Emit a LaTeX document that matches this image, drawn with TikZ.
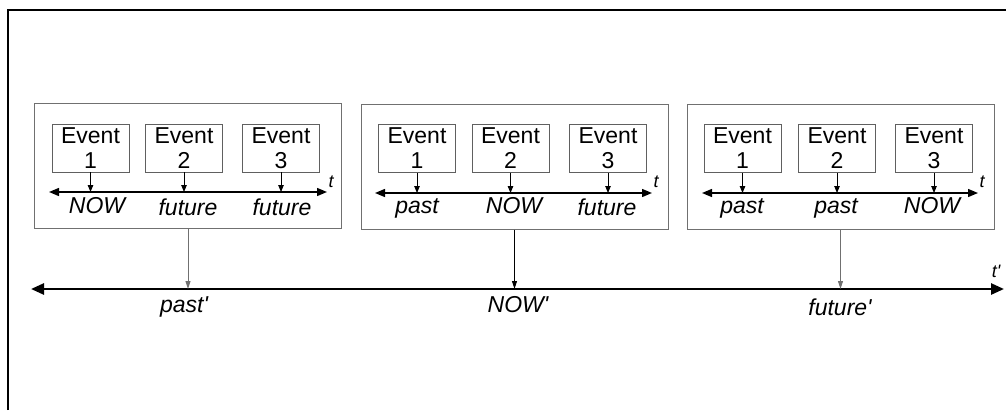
\documentclass[tikz,border=0pt]{standalone}
\usepackage{fontspec}
\setmainfont{Liberation Sans}
\usetikzlibrary{arrows.meta}
\definecolor{panelgray}{HTML}{707070}
\definecolor{boxgray}{HTML}{606060}
\definecolor{conngray}{HTML}{707070}
\begin{document}
\begin{tikzpicture}[x=1pt,y=-1pt,
  panel/.style={draw=panelgray,line width=1pt,minimum width=307pt,minimum height=125pt,inner sep=0pt},
  evbox/.style={draw=boxgray,line width=0.9pt,minimum width=77pt,minimum height=48pt,inner sep=0pt,align=center,font=\fontsize{23}{25}\selectfont},
  lbl/.style={font=\fontsize{23}{26}\selectfont\itshape,inner sep=0pt},
  tlbl/.style={font=\fontsize{18}{20}\selectfont\itshape,inner sep=0pt},
  inaxis/.style={line width=1.4pt,{Triangle[length=10pt,width=8pt]}-{Triangle[length=10pt,width=8pt]}},
  evarrow/.style={line width=0.9pt,-{Triangle[length=7pt,width=5.5pt]}},
  conn/.style={line width=1pt,-{Triangle[length=8pt,width=5pt]}},
  mainaxis/.style={line width=2.6pt,{Triangle[length=13pt,width=11pt]}-{Triangle[length=13pt,width=11pt]}}
]
\useasboundingbox (0,0) rectangle (1006,410);
% frame
\draw[line width=1.4pt] (8,410) -- (8,10) -- (1006,10);

% panels
\node[panel] (p1) at (188,165.5) {};
\node[panel] (p2) at (514.5,166.5) {};
\node[panel] (p3) at (840.5,166.5) {};

% event boxes
\node[evbox] (e11) at (90.5,148) {Event\\1};
\node[evbox] (e12) at (184,148) {Event\\2};
\node[evbox] (e13) at (281,148) {Event\\3};
\node[evbox] (e21) at (417,148.5) {Event\\1};
\node[evbox] (e22) at (510.5,148.5) {Event\\2};
\node[evbox] (e23) at (608,148.5) {Event\\3};
\node[evbox] (e31) at (742.5,148.5) {Event\\1};
\node[evbox] (e32) at (837,148.5) {Event\\2};
\node[evbox] (e33) at (934,148.5) {Event\\3};

% inner axes
\coordinate (a1l) at (49,192);  \coordinate (a1r) at (327,192);
\coordinate (a2l) at (375,193); \coordinate (a2r) at (652,193);
\coordinate (a3l) at (702,193); \coordinate (a3r) at (978,193);
\draw[inaxis] (a1l) -- (a1r);
\draw[inaxis] (a2l) -- (a2r);
\draw[inaxis] (a3l) -- (a3r);
\node[tlbl] (t1) at (331,182) {t};
\node[tlbl] (t2) at (656,182) {t};
\node[tlbl] (t3) at (982,182) {t};

% event arrows
\foreach \p in {1,2,3}{
  \foreach \e in {1,2,3}{
    \draw[evarrow] (e\p\e.south) -- (e\p\e.south |- a\p l);
  }
}

% inner labels
\node[lbl] (l11) at (97,206) {NOW};
\node[lbl] (l12) at (188,207) {future};
\node[lbl] (l13) at (282,207) {future};
\node[lbl] (l21) at (417,208) {past};
\node[lbl] (l22) at (514,206) {NOW};
\node[lbl] (l23) at (607,207) {future};
\node[lbl] (l31) at (742,208) {past};
\node[lbl] (l32) at (836,208) {past};
\node[lbl] (l33) at (932,206) {NOW};

% main axis
\coordinate (ml) at (31,289);
\coordinate (mr) at (1004,289);
\draw[mainaxis] (ml) -- (mr);
\node[tlbl] (tp) at (996,271) {t\textquotesingle};

% connectors
\draw[conn,draw=conngray] (p1.south) -- (p1.south |- ml);
\draw[conn] (p2.south) -- (p2.south |- ml);
\draw[conn,draw=conngray] (p3.south) -- (p3.south |- ml);

% main labels
\node[lbl] (m1) at (184,307) {past\textquotesingle};
\node[lbl] (m2) at (518,305) {NOW\textquotesingle};
\node[lbl] (m3) at (840,307) {future\textquotesingle};
\end{tikzpicture}
\end{document}
